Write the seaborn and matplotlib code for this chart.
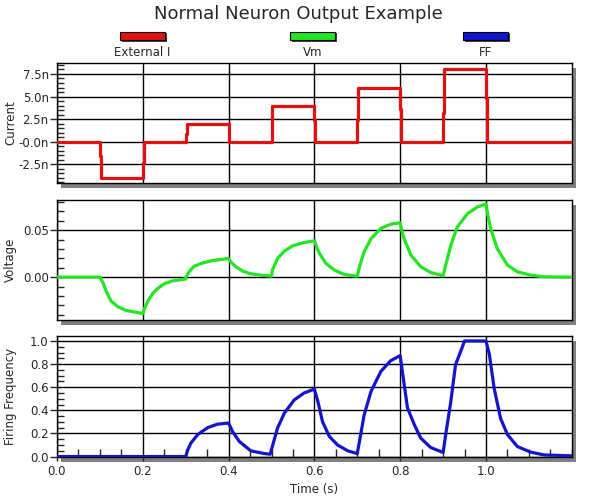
import pandas as pd
import matplotlib
matplotlib.use("Agg")
import matplotlib.pyplot as plt
from matplotlib.patches import Rectangle
from matplotlib.ticker import MultipleLocator, FixedLocator, FixedFormatter
import seaborn as sns

# series names and colours (legend order)
series_names = ["External I", "Vm", "FF"]
series_colors = ["#e31010", "#22e622", "#1414cc"]

# external current (nA)
cur_t = [0.0, 0.1, 0.1, 0.102, 0.102, 0.2, 0.2, 0.202, 0.202,
         0.3, 0.3, 0.302, 0.302, 0.4, 0.4, 0.402, 0.402,
         0.5, 0.5, 0.502, 0.502, 0.6, 0.6, 0.602, 0.602,
         0.7, 0.7, 0.702, 0.702, 0.8, 0.8, 0.802, 0.802,
         0.9, 0.9, 0.902, 0.902, 1.0, 1.0, 1.002, 1.002, 1.2]
cur_nA = [0, 0, -1.6, -1.6, -4, -4, -2.4, -2.4, 0,
          0, 0.8, 0.8, 2, 2, 1.2, 1.2, 0,
          0, 1.6, 1.6, 4, 4, 2.4, 2.4, 0,
          0, 2.4, 2.4, 6, 6, 3.6, 3.6, 0,
          0, 3.2, 3.2, 8, 8, 4.8, 4.8, 0, 0]

# membrane voltage
vm_t = [0.0, 0.1, 0.107, 0.115, 0.126, 0.142, 0.161, 0.181, 0.2,
        0.204, 0.212, 0.223, 0.235, 0.25, 0.27, 0.3,
        0.301, 0.309, 0.32, 0.336, 0.359, 0.4,
        0.405, 0.417, 0.433, 0.452, 0.475, 0.5,
        0.502, 0.514, 0.53, 0.549, 0.576, 0.6,
        0.606, 0.612, 0.627, 0.647, 0.67, 0.7,
        0.705, 0.716, 0.732, 0.755, 0.778, 0.8,
        0.804, 0.809, 0.825, 0.848, 0.871, 0.9,
        0.906, 0.918, 0.933, 0.957, 0.98, 1.0,
        1.005, 1.011, 1.026, 1.05, 1.073, 1.104, 1.135, 1.2]
vm_v = [0.0, 0.0, -0.0057, -0.0156, -0.0255, -0.0316, -0.0355, -0.0372, -0.039,
        -0.0333, -0.0255, -0.0174, -0.012, -0.0071, -0.0039, -0.002,
        0.0004, 0.0064, 0.0117, 0.0145, 0.0174, 0.0199,
        0.0163, 0.011, 0.0064, 0.0035, 0.0021, 0.0011,
        0.0074, 0.0199, 0.0277, 0.0333, 0.0369, 0.0387,
        0.031, 0.025, 0.0145, 0.0074, 0.0028, 0.001,
        0.011, 0.027, 0.041, 0.052, 0.0564, 0.058,
        0.049, 0.041, 0.0234, 0.011, 0.005, 0.0014,
        0.0128, 0.034, 0.0535, 0.0677, 0.0748, 0.078,
        0.064, 0.0518, 0.0305, 0.0128, 0.0057, 0.0021, 0.0004, 0.0]

# firing frequency
ff_t = [0.0, 0.3, 0.305, 0.312, 0.328, 0.351, 0.374, 0.4,
        0.405, 0.409, 0.425, 0.452, 0.483, 0.497,
        0.503, 0.514, 0.53, 0.553, 0.576, 0.6,
        0.604, 0.608, 0.619, 0.635, 0.654, 0.678, 0.7,
        0.705, 0.716, 0.732, 0.755, 0.778, 0.8,
        0.805, 0.817, 0.833, 0.848, 0.871, 0.9,
        0.906, 0.918, 0.929, 0.941, 0.95, 1.0,
        1.008, 1.019, 1.034, 1.05, 1.073, 1.104, 1.135, 1.2]
ff_v = [0.0, 0.0, 0.06, 0.116, 0.19, 0.25, 0.28, 0.29,
        0.25, 0.217, 0.13, 0.049, 0.026, 0.02,
        0.10, 0.246, 0.376, 0.49, 0.55, 0.584,
        0.53, 0.477, 0.30, 0.173, 0.10, 0.049, 0.026,
        0.13, 0.36, 0.564, 0.737, 0.83, 0.873,
        0.737, 0.42, 0.275, 0.159, 0.078, 0.035,
        0.188, 0.477, 0.795, 0.91, 1.0, 1.0,
        0.88, 0.59, 0.33, 0.19, 0.087, 0.038, 0.014, 0.006]

cur_ticks = [-2.5, 0.0, 2.5, 5.0, 7.5]
cur_labels = ["-2.5n", "-0.0n", "2.5n", "5.0n", "7.5n"]
vm_ticks = [0.0, 0.05]
vm_labels = ["0.00", "0.05"]
ff_ticks = [0.0, 0.2, 0.4, 0.6, 0.8, 1.0]
ff_labels = ["0.0", "0.2", "0.4", "0.6", "0.8", "1.0"]
time_ticks = [0.0, 0.2, 0.4, 0.6, 0.8, 1.0]
time_labels = ["0.0", "0.2", "0.4", "0.6", "0.8", "1.0"]

sns.set_style("white")
plt.rcParams["font.family"] = ["DejaVu Sans"]

fig = plt.figure(figsize=(6, 5), dpi=100)

panels = [
    dict(t=cur_t, y=cur_nA, ylab="Current", ylim=(-4.6, 8.72), ticks=cur_ticks,
         labels=cur_labels, minor=0.5, rect=[0.095, 0.634, 0.858, 0.240]),
    dict(t=vm_t, y=vm_v, ylab="Voltage", ylim=(-0.0457, 0.0822), ticks=vm_ticks,
         labels=vm_labels, minor=0.01, rect=[0.095, 0.360, 0.858, 0.240]),
    dict(t=ff_t, y=ff_v, ylab="Firing Frequency", ylim=(-0.004, 1.043), ticks=ff_ticks,
         labels=ff_labels, minor=0.05, rect=[0.095, 0.086, 0.858, 0.242]),
]

for i, p in enumerate(panels):
    l, b, w, h = p["rect"]
    # drop shadow behind each panel
    fig.add_artist(Rectangle((l + 0.007, b - 0.009), w, h, transform=fig.transFigure,
                             facecolor="#808080", edgecolor="none", zorder=-5))
    ax = fig.add_axes(p["rect"])
    ax.set_facecolor("white")
    df = pd.DataFrame({"t": p["t"], "y": p["y"]})
    sns.lineplot(data=df, x="t", y="y", ax=ax, color=series_colors[i], linewidth=2.3,
                 sort=False, estimator=None, zorder=3)
    ax.set_xlim(0, 1.2)
    ax.set_ylim(*p["ylim"])
    ax.yaxis.set_major_locator(FixedLocator(p["ticks"]))
    ax.yaxis.set_major_formatter(FixedFormatter(p["labels"]))
    ax.yaxis.set_minor_locator(MultipleLocator(p["minor"]))
    ax.xaxis.set_major_locator(FixedLocator(time_ticks))
    ax.grid(True, which="major", color="black", linewidth=1.0)
    ax.set_ylabel(p["ylab"], fontsize=8.5, va="center")
    ax.yaxis.set_label_coords(-0.090, 0.5)
    ax.set_xlabel("")
    for s in ax.spines.values():
        s.set_color("black")
        s.set_linewidth(1.0)
    ax.tick_params(axis="y", which="major", direction="out", length=5, width=1,
                   labelsize=8.5, pad=1, left=True)
    ax.tick_params(axis="y", which="minor", direction="in", length=5, width=1, left=True)
    if i < 2:
        ax.tick_params(axis="x", which="both", bottom=False, labelbottom=False)
    else:
        ax.xaxis.set_major_formatter(FixedFormatter(time_labels))
        ax.xaxis.set_minor_locator(MultipleLocator(0.05))
        ax.tick_params(axis="x", which="major", direction="out", length=3, width=1,
                       labelsize=8.5, pad=3, bottom=True)
        ax.tick_params(axis="x", which="minor", direction="in", length=6, width=1,
                       bottom=True)
        ax.set_xlabel("Time (s)", fontsize=8.5, labelpad=3)

# title and legend swatches
fig.text(0.497, 0.972, "Normal Neuron Output Example", ha="center", va="center", fontsize=13)
legend_x = [0.200, 0.483, 0.772]
for name, col, x0 in zip(series_names, series_colors, legend_x):
    fig.add_artist(Rectangle((x0 + 0.003, 0.917), 0.075, 0.016, transform=fig.transFigure,
                             facecolor="#404040", edgecolor="none"))
    fig.add_artist(Rectangle((x0, 0.920), 0.075, 0.016, transform=fig.transFigure,
                             facecolor=col, edgecolor="black", linewidth=0.8))
    fig.text(x0 + 0.0375, 0.895, name, ha="center", va="center", fontsize=8.5)

fig.savefig("out.png", dpi=100)
